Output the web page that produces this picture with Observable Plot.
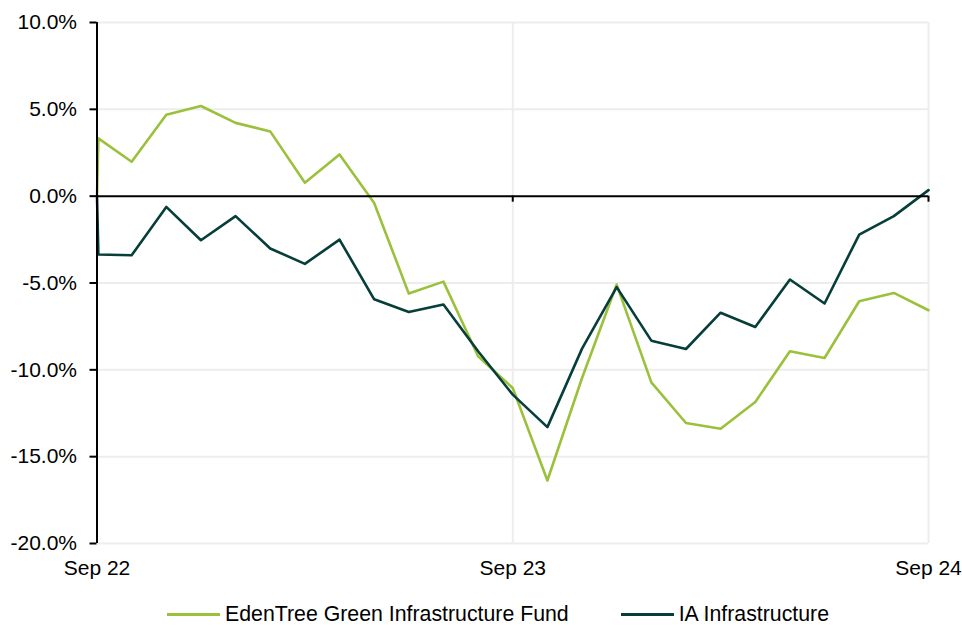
<!DOCTYPE html>
<html>
<head>
<meta charset="utf-8">
<script src="https://cdn.jsdelivr.net/npm/d3@7"></script>
<script src="https://cdn.jsdelivr.net/npm/@observablehq/plot@0.6"></script>
<style>
  html, body { margin: 0; padding: 0; background: #fff; }
  body { width: 962px; height: 625px; overflow: hidden; font-family: "Liberation Sans", Arial, sans-serif; }
  #legend { display: flex; align-items: center; padding-left: 167px; margin-top: 5px; height: 26px; font-size: 21.3px; color: #000; white-space: nowrap; }
  .item { display: flex; align-items: center; }
  .swatch { width: 53px; height: 3px; margin-right: 5px; }
</style>
</head>
<body>
<div id="chart"></div>
<div id="legend"></div>
<script>
// Month offsets from Sep 22 (first two points are the start of the period)
const months = [0, 0.04, 1, 2, 3, 4, 5, 6, 7, 8, 9, 10, 11, 12, 13, 14, 15, 16, 17, 18, 19, 20, 21, 22, 23, 24];
const fundName = "EdenTree Green Infrastructure Fund";
const sectorName = "IA Infrastructure";
const fundValues = [0, 3.33, 1.98, 4.69, 5.19, 4.22, 3.73, 0.77, 2.40, -0.39, -5.61, -4.92, -9.22, -11.05, -16.37, -10.47, -5.09, -10.72, -13.06, -13.39, -11.85, -8.93, -9.32, -6.05, -5.57, -6.57];
const sectorValues = [0, -3.36, -3.40, -0.62, -2.54, -1.15, -3.01, -3.90, -2.50, -5.94, -6.67, -6.24, -8.93, -11.43, -13.30, -8.78, -5.24, -8.32, -8.80, -6.71, -7.53, -4.80, -6.18, -2.21, -1.15, 0.35];
const xTicks = [0, 12, 24];
const xTickLabels = ["Sep 22", "Sep 23", "Sep 24"];
const yTicks = [10, 5, 0, -5, -10, -15, -20];

const fundColor = "#9bc13c";
const sectorColor = "#063e39";

const fundRows = months.map((m, i) => ({m, v: fundValues[i]}));
const sectorRows = months.map((m, i) => ({m, v: sectorValues[i]}));

const chart = Plot.plot({
  width: 962,
  height: 596,
  marginLeft: 96.5,
  marginRight: 34,
  marginTop: 22,
  marginBottom: 53,
  style: {fontFamily: "'Liberation Sans', Arial, sans-serif", fontSize: "21px", color: "#000", background: "#fff", overflow: "visible"},
  x: {domain: [0, 24], axis: null},
  y: {domain: [-20, 10], axis: null},
  marks: [
    Plot.ruleY(yTicks.filter(d => d !== 0), {stroke: "#ededed", strokeWidth: 2}),
    Plot.ruleX(xTicks.filter(d => d !== 0), {stroke: "#ededed", strokeWidth: 2}),
    Plot.line(fundRows, {x: "m", y: "v", stroke: fundColor, strokeWidth: 2.6}),
    Plot.line(sectorRows, {x: "m", y: "v", stroke: sectorColor, strokeWidth: 2.6}),
    Plot.ruleY([0], {stroke: "#000", strokeWidth: 2}),
    Plot.ruleX(xTicks.filter(d => d !== 0), {y1: 0, y2: 0, insetBottom: -6, stroke: "#000", strokeWidth: 2}),
    Plot.ruleX([0], {stroke: "#000", strokeWidth: 2}),
    Plot.axisY({
      ticks: yTicks,
      tickSize: 7,
      tickPadding: 13,
      strokeWidth: 2,
      stroke: "#000",
      fill: "#000",
      fontSize: 21,
      tickFormat: d => d.toFixed(1) + "%",
      label: null
    }),
    Plot.axisX({
      ticks: xTicks,
      tickSize: 0,
      tickPadding: 17,
      fill: "#000",
      fontSize: 21,
      tickFormat: d => xTickLabels[xTicks.indexOf(d)],
      label: null
    })
  ]
});
document.getElementById("chart").appendChild(chart);

const legend = document.getElementById("legend");
[[fundName, fundColor, 52], [sectorName, sectorColor, 0]].forEach(([name, color, gap]) => {
  const item = document.createElement("div");
  item.className = "item";
  item.style.marginRight = gap + "px";
  const sw = document.createElement("div");
  sw.className = "swatch";
  sw.style.background = color;
  const label = document.createElement("span");
  label.textContent = name;
  item.appendChild(sw);
  item.appendChild(label);
  legend.appendChild(item);
});
</script>
</body>
</html>
